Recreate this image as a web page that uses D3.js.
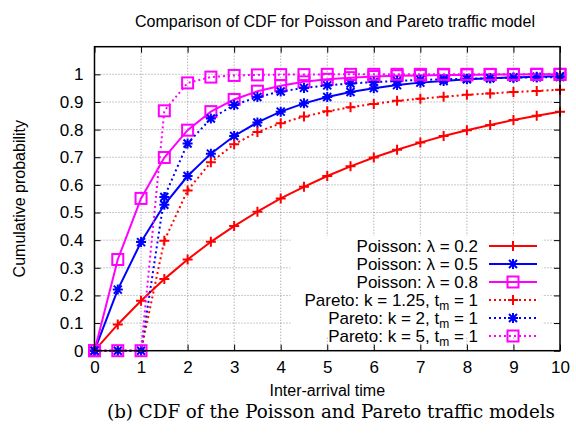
<!DOCTYPE html>
<html>
<head>
<meta charset="utf-8">
<script src="https://cdn.jsdelivr.net/npm/d3@7"></script>
<style>
  body { margin: 0; background: #fff; }
  svg { display: block; }
  text { font-family: "Liberation Sans", Arial, sans-serif; fill: #000; }
</style>
</head>
<body>
<div id="chart"></div>
<script>
// Chart data
const xValues = [0, 0.5, 1, 1.5, 2, 2.5, 3, 3.5, 4, 4.5, 5, 5.5, 6, 6.5, 7, 7.5, 8, 8.5, 9, 9.5, 10];

const poisson02 = [0, 0.095, 0.181, 0.259, 0.330, 0.394, 0.451, 0.503, 0.551, 0.593, 0.632, 0.667, 0.699, 0.727, 0.753, 0.777, 0.798, 0.817, 0.835, 0.850, 0.865];
const poisson05 = [0, 0.221, 0.393, 0.528, 0.632, 0.713, 0.777, 0.826, 0.865, 0.895, 0.918, 0.936, 0.950, 0.961, 0.970, 0.976, 0.982, 0.986, 0.989, 0.991, 0.993];
const poisson08 = [0, 0.330, 0.551, 0.699, 0.798, 0.865, 0.909, 0.939, 0.959, 0.973, 0.982, 0.988, 0.992, 0.995, 0.996, 0.998, 0.998, 0.999, 0.999, 1.0, 1.0];
const pareto125 = [0, 0, 0, 0.398, 0.580, 0.682, 0.747, 0.791, 0.823, 0.847, 0.866, 0.881, 0.893, 0.904, 0.912, 0.919, 0.926, 0.931, 0.936, 0.940, 0.944];
const pareto2 = [0, 0, 0, 0.556, 0.750, 0.840, 0.889, 0.918, 0.938, 0.951, 0.960, 0.967, 0.972, 0.976, 0.980, 0.982, 0.984, 0.986, 0.988, 0.989, 0.990];
const pareto5 = [0, 0, 0, 0.868, 0.969, 0.990, 0.996, 0.998, 0.999, 0.999, 1.0, 1.0, 1.0, 1.0, 1.0, 1.0, 1.0, 1.0, 1.0, 1.0, 1.0];

const xTicks = [0, 1, 2, 3, 4, 5, 6, 7, 8, 9, 10];
const yTicks = [0, 0.1, 0.2, 0.3, 0.4, 0.5, 0.6, 0.7, 0.8, 0.9, 1];

const series = [
  { label: "Poisson: λ = 0.2", values: poisson02, color: "#ff0000", dotted: false, marker: "plus" },
  { label: "Poisson: λ = 0.5", values: poisson05, color: "#0000ff", dotted: false, marker: "star" },
  { label: "Poisson: λ = 0.8", values: poisson08, color: "#ff00ff", dotted: false, marker: "square" },
  { label: "Pareto: k = 1.25, t", sub: "m", tail: " = 1", values: pareto125, color: "#ff0000", dotted: true, marker: "plus" },
  { label: "Pareto: k = 2, t", sub: "m", tail: " = 1", values: pareto2, color: "#0000ff", dotted: true, marker: "star" },
  { label: "Pareto: k = 5, t", sub: "m", tail: " = 1", values: pareto5, color: "#ff00ff", dotted: true, marker: "square" }
];

const W = 576, H = 439;
const margin = { left: 94.5, top: 46.7, right: 16, bottom: 88.3 };
const width = W - margin.left - margin.right;
const height = H - margin.top - margin.bottom;

const svg = d3.select("#chart").append("svg")
  .attr("width", W)
  .attr("height", H);

const g = svg.append("g")
  .attr("transform", `translate(${margin.left},${margin.top})`);

const x = d3.scaleLinear().domain([0, 10]).range([0, width]);
const y = d3.scaleLinear().domain([0, 1.1]).range([height, 0]);

// grid
g.append("g").selectAll("line")
  .data(xTicks.slice(1, -1))
  .enter().append("line")
  .attr("x1", d => x(d)).attr("x2", d => x(d))
  .attr("y1", 0).attr("y2", height)
  .attr("stroke", "#777").attr("stroke-width", 0.8)
  .attr("stroke-dasharray", "1,2");

g.append("g").selectAll("line")
  .data(yTicks.slice(1))
  .enter().append("line")
  .attr("x1", 0).attr("x2", width)
  .attr("y1", d => y(d)).attr("y2", d => y(d))
  .attr("stroke", "#777").attr("stroke-width", 0.8)
  .attr("stroke-dasharray", "1,2");

// axes with inward ticks on all sides
const tickLen = 6;
const axisBottom = g.append("g")
  .attr("transform", `translate(0,${height})`)
  .call(d3.axisBottom(x).tickValues(xTicks).tickSizeInner(-tickLen).tickSizeOuter(0).tickPadding(10).tickFormat(d3.format("d")));
const axisTop = g.append("g")
  .call(d3.axisTop(x).tickValues(xTicks).tickSizeInner(-tickLen).tickSizeOuter(0).tickFormat(""));
const axisLeft = g.append("g")
  .call(d3.axisLeft(y).tickValues(yTicks).tickSizeInner(-tickLen).tickSizeOuter(0).tickPadding(11).tickFormat(d => d === 0 || d === 1 ? d3.format("d")(d) : d3.format(".1f")(d)));
const axisRight = g.append("g")
  .attr("transform", `translate(${width},0)`)
  .call(d3.axisRight(y).tickValues(yTicks).tickSizeInner(-tickLen).tickSizeOuter(0).tickFormat(""));

[axisBottom, axisTop, axisLeft, axisRight].forEach(a => {
  a.select(".domain").remove();
  a.selectAll("line").attr("stroke", "#000").attr("stroke-width", 1);
  a.selectAll("text").style("font-family", "Liberation Sans, Arial, sans-serif").style("font-size", "17px").attr("fill", "#000");
});

const curve = d3.line()
  .x((d, i) => x(xValues[i]))
  .y(d => y(d));

function drawMarker(sel, type, color) {
  if (type === "plus") {
    sel.append("path").attr("d", "M-5,0H5M0,-5V5");
  } else if (type === "star") {
    sel.append("path").attr("d", "M-5,0H5M0,-5V5M-4,-4L4,4M-4,4L4,-4");
  } else {
    sel.append("rect").attr("x", -5.5).attr("y", -5.5).attr("width", 11).attr("height", 11)
      .attr("fill", "none");
  }
  sel.selectAll("path, rect").attr("stroke", color).attr("stroke-width", 2);
  sel.selectAll("path").attr("fill", "none");
}

series.forEach(s => {
  g.append("path")
    .datum(s.values)
    .attr("d", curve)
    .attr("fill", "none")
    .attr("stroke", s.color)
    .attr("stroke-width", 2)
    .attr("stroke-dasharray", s.dotted ? "2,3" : null);

  g.append("g").selectAll("g")
    .data(s.values)
    .enter().append("g")
    .attr("transform", (d, i) => `translate(${x(xValues[i])},${y(d)})`)
    .each(function() { drawMarker(d3.select(this), s.marker, s.color); });
});

// frame
g.append("rect")
  .attr("width", width).attr("height", height)
  .attr("fill", "none").attr("stroke", "#000").attr("stroke-width", 1.5);

// legend (opaque, as in gnuplot)
const legend = g.append("g").attr("transform", `translate(0,${246 - margin.top})`);
legend.append("rect")
  .attr("x", 196).attr("y", -10)
  .attr("width", 252).attr("height", 100)
  .attr("fill", "#fff");

series.forEach((s, i) => {
  const row = legend.append("g").attr("transform", `translate(0,${i * 18})`);
  const t = row.append("text")
    .attr("x", 478 - margin.left)
    .attr("y", 6)
    .attr("text-anchor", "end")
    .style("font-size", "17px");
  t.append("tspan").text(s.label);
  if (s.sub) {
    t.append("tspan").attr("dy", 4).style("font-size", "12px").text(s.sub);
    t.append("tspan").attr("dy", -4).text(s.tail);
  }
  row.append("line")
    .attr("x1", 489 - margin.left).attr("x2", 537 - margin.left)
    .attr("y1", 0).attr("y2", 0)
    .attr("stroke", s.color).attr("stroke-width", 2)
    .attr("stroke-dasharray", s.dotted ? "2,3" : null);
  const m = row.append("g").attr("transform", `translate(${513 - margin.left},0)`);
  drawMarker(m, s.marker, s.color);
});

// titles
svg.append("text")
  .attr("x", 335).attr("y", 27)
  .attr("text-anchor", "middle")
  .style("font-size", "16px")
  .text("Comparison of CDF for Poisson and Pareto traffic model");

svg.append("text")
  .attr("x", margin.left + width / 2).attr("y", 396)
  .attr("text-anchor", "middle")
  .style("font-size", "16px")
  .text("Inter-arrival time");

svg.append("text")
  .attr("transform", `translate(25,${margin.top + height / 2}) rotate(-90)`)
  .attr("text-anchor", "middle")
  .style("font-size", "16px")
  .text("Cumulative probability");

svg.append("text")
  .attr("x", 331).attr("y", 418)
  .attr("text-anchor", "middle")
  .style("font-family", "'DejaVu Serif', serif")
  .style("font-size", "18px")
  .attr("textLength", 448)
  .attr("lengthAdjust", "spacingAndGlyphs")
  .text("(b) CDF of the Poisson and Pareto traffic models");
</script>
</body>
</html>
